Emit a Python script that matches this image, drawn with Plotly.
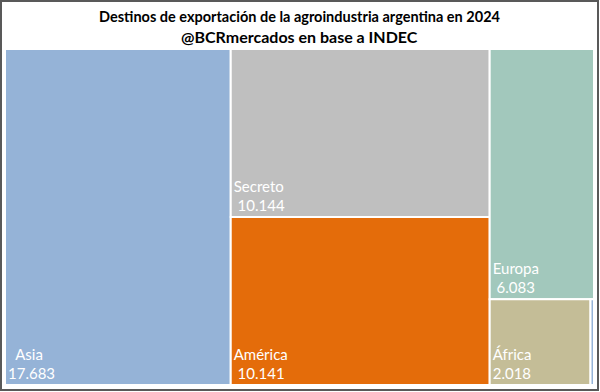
import plotly.graph_objects as go

destinos = ["Asia", "Secreto", "América", "Europa", "África", "Oceanía"]
valores = [17683, 10144, 10141, 6083, 2018, 70]
colores = ["#95B3D7", "#BFBFBF", "#E46C0A", "#A2C8BC", "#C4BD97", "#95B3D7"]
textos = ["&nbsp;&nbsp;Asia<br>17.683", "Secreto<br>&nbsp;10.144", "América<br>&nbsp;10.141",
          "Europa<br>&nbsp;6.083", "África<br>2.018", ""]

fig = go.Figure(go.Treemap(
    labels=destinos,
    parents=[""] * len(destinos),
    values=valores,
    text=textos,
    texttemplate="%{text}",
    textposition="bottom left",
    marker=dict(colors=colores, line=dict(color="white", width=2),
                pad=dict(t=0, l=0, r=0, b=0)),
    textfont=dict(family="Lato, Open Sans, sans-serif", size=15, color="white"),
    tiling=dict(packing="squarify", squarifyratio=1, pad=0),
    pathbar=dict(visible=False),
    sort=True,
    hoverinfo="label+value",
))

W, H = 600, 392
ml, mr, mt, mb = 5, 6, 49, 7
pw, ph = W - ml - mr, H - mt - mb

def px(x):
    return (x - ml) / pw

def py(y):
    return 1 - (y - mt) / ph

fig.update_layout(
    width=W, height=H,
    margin=dict(l=ml, r=mr, t=mt, b=mb),
    paper_bgcolor="white",
    separators=",.",
    showlegend=False,
    annotations=[
        dict(text="<b>Destinos de exportación de la agroindustria argentina en 2024</b>",
             xref="paper", yref="paper", x=0.5, y=py(17), xanchor="center", yanchor="middle",
             showarrow=False, font=dict(family="Lato, Liberation Sans, sans-serif", size=14.5, color="black")),
        dict(text="<b>@BCRmercados en base a INDEC</b>",
             xref="paper", yref="paper", x=0.5, y=py(37), xanchor="center", yanchor="middle",
             showarrow=False, font=dict(family="Lato, Liberation Sans, sans-serif", size=16, color="black")),
    ],
    shapes=[
        dict(type="rect", xref="paper", yref="paper",
             x0=px(1), x1=px(598), y0=py(1), y1=py(390),
             line=dict(color="#595959", width=2), fillcolor="rgba(0,0,0,0)", layer="above"),
    ],
)

fig.write_html("out.html", config={"displayModeBar": False},
               post_script="document.body.style.margin='0';document.body.style.overflow='hidden';")
